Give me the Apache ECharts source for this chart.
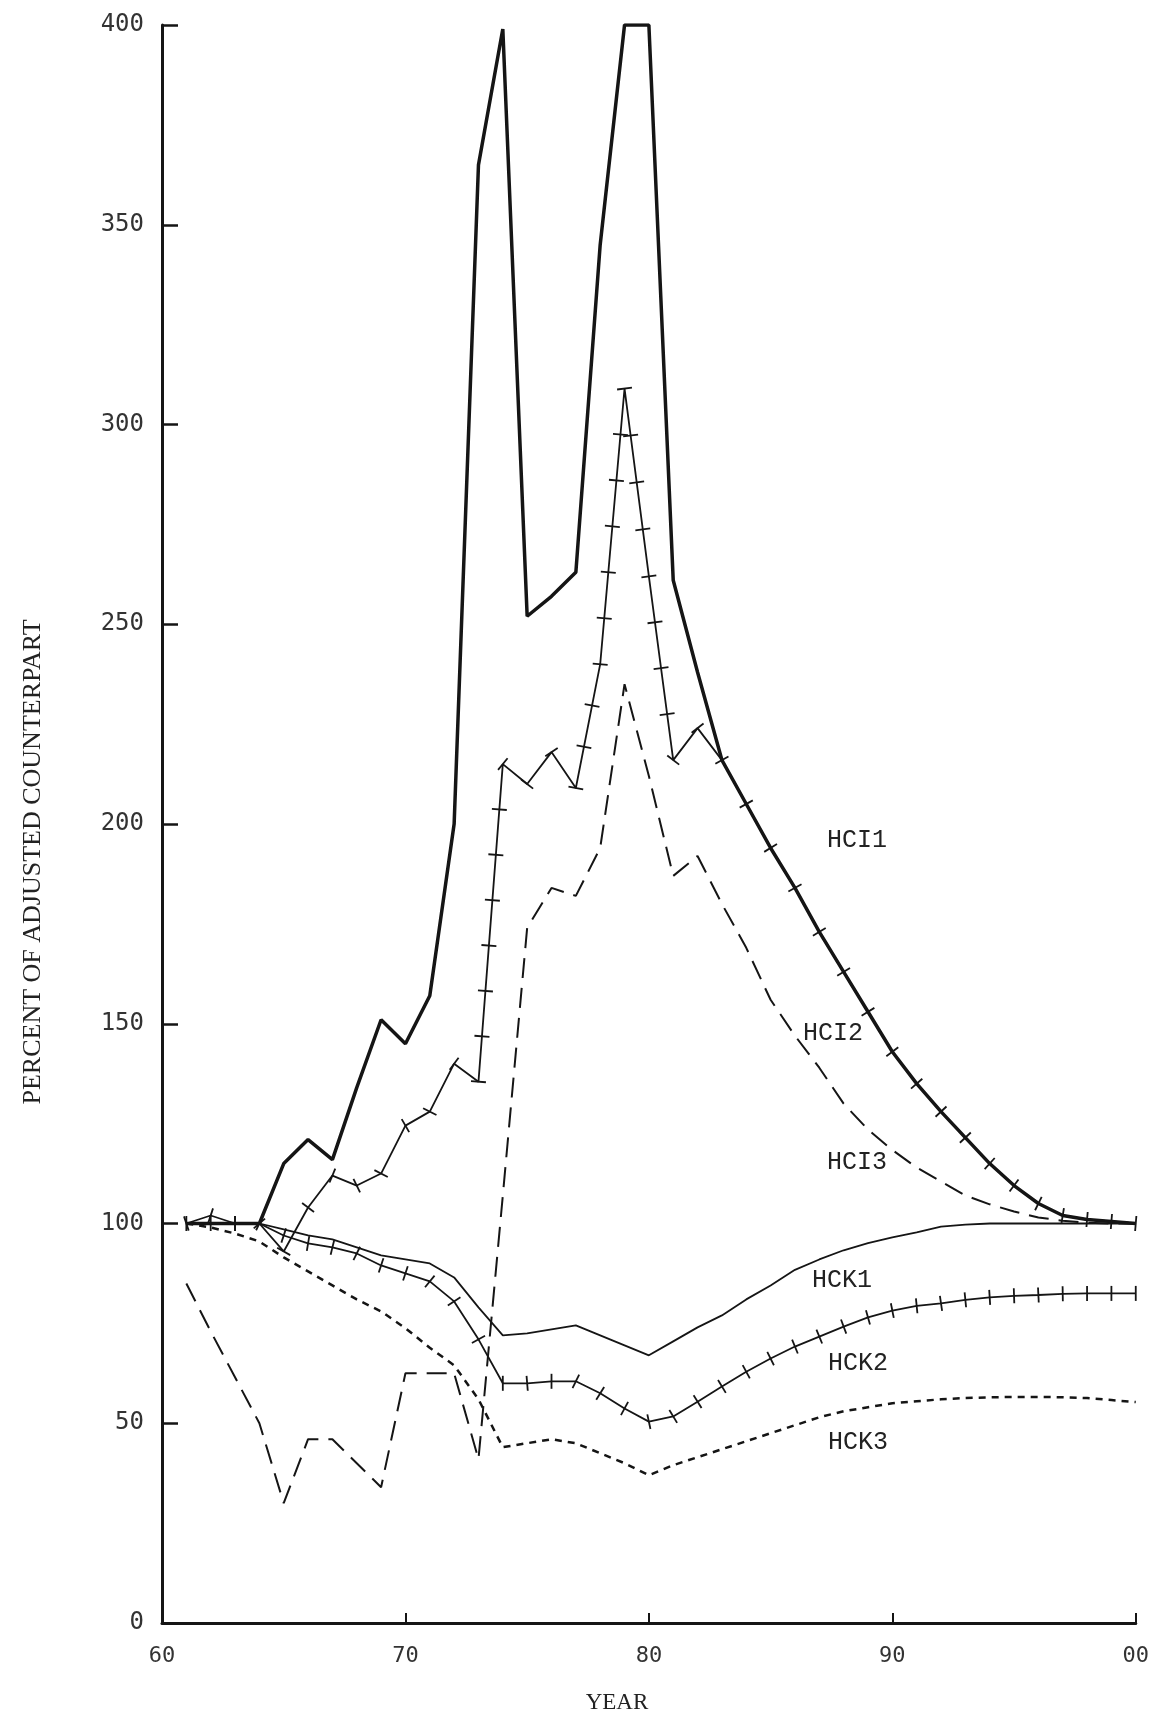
<!DOCTYPE html>
<html>
<head>
<meta charset="utf-8">
<title>Percent of adjusted counterpart</title>
<script src="https://cdn.jsdelivr.net/npm/echarts@6/dist/echarts.min.js"></script>
<style>
  html, body { margin: 0; padding: 0; background: #fff; }
  #chart { width: 1152px; height: 1716px; }
</style>
</head>
<body>
<div id="chart"></div>
<script>
// years 1961..2000, written as 61..100 on the value axis
const years = [61, 62, 63, 64, 65, 66, 67, 68, 69, 70,
  71, 72, 73, 74, 75, 76, 77, 78, 79, 80,
  81, 82, 83, 84, 85, 86, 87, 88, 89, 90,
  91, 92, 93, 94, 95, 96, 97, 98, 99, 100]

const hci1 = [100, 100, 100, 100, 115, 121, 116, 134, 151, 145,
  157, 200, 365, 399, 252, 257, 263, 345, 400, 400,
  261, 238, 216, 205, 194, 184, 173, 163, 153, 143,
  135, 128, 121.5, 115, 109.5, 105, 102, 101, 100.5, 100]

const hci2 = [100, 102, 100, 100, 93, 104, 112, 109.5, 112.5, 124.5,
  128, 140, 135.5, 215, 210, 218, 209, 240, 309, 262,
  216, 224, 216, 205, 194, 184, 173, 163, 153, 143,
  135, 128, 121.5, 115, 109.5, 105, 102, 101, 100.5, 100]

const hci3 = [85, 73, 61.5, 50, 30, 46, 46, 40, 34, 62.5,
  62.5, 62.5, 41, 107, 174, 184, 182, 194, 235, 212,
  187, 192, 180, 169, 156, 147, 139, 130, 123.5, 118.4,
  114, 110.5, 107, 104.8, 103, 101.5, 100.7, 100.2, 100, 100]

const hck1 = [100, 100, 100, 100, 98.5, 97, 96, 94, 92, 91,
  90, 86.5, 79, 72, 72.5, 73.5, 74.5, 72, 69.5, 67,
  70.5, 74, 77, 81, 84.5, 88.4, 91, 93.3, 95.1, 96.5,
  97.8, 99.2, 99.7, 100, 100, 100, 100, 100, 100, 100]

const hck2 = [100, 100, 100, 100, 97, 95, 94, 92.5, 89.5, 87.5,
  85.5, 80.5, 71, 60, 60, 60.5, 60.5, 57.5, 53.7, 50.4,
  51.7, 55.4, 59.2, 62.9, 66.2, 69.2, 71.7, 74.2, 76.5, 78.2,
  79.4, 80, 80.9, 81.5, 81.9, 82.1, 82.4, 82.5, 82.5, 82.5]

const hck3 = [100, 99, 97.5, 95.5, 91.5, 88, 84.5, 81, 78, 73.8,
  68.9, 64.5, 56, 44, 45, 46, 45, 42.5, 40, 37,
  39.5, 41.5, 43.5, 45.5, 47.5, 49.5, 51.5, 53, 54, 55,
  55.5, 56, 56.3, 56.5, 56.6, 56.6, 56.5, 56.3, 55.8, 55.3]

const yearTicks = [60, 70, 80, 90, 100]

const ink = '#151515'
const pairs = values => years.map((y, i) => [y, values[i]])

// cross-hatch marks along a curve: one per data point, more on long segments
const tickSpacing = 45
const tickLen = 15
function hatchRender(values) {
  return function (params, api) {
    const pts = values.map((v, i) => api.coord([years[i], v]))
    const children = []
    const addTick = (p, dx, dy) => {
      const len = Math.hypot(dx, dy) || 1
      const nx = (-dy / len) * tickLen / 2
      const ny = (dx / len) * tickLen / 2
      children.push({
        type: 'line',
        shape: { x1: p[0] - nx, y1: p[1] - ny, x2: p[0] + nx, y2: p[1] + ny },
        style: { stroke: ink, lineWidth: 1.8 }
      })
    }
    for (let i = 0; i < pts.length - 1; i++) {
      const a = pts[i]
      const b = pts[i + 1]
      const dx = b[0] - a[0]
      const dy = b[1] - a[1]
      const n = Math.max(1, Math.round(Math.hypot(dx, dy) / tickSpacing))
      for (let k = 0; k < n; k++) addTick([a[0] + dx * k / n, a[1] + dy * k / n], dx, dy)
    }
    const last = pts.length - 1
    addTick(pts[last], pts[last][0] - pts[last - 1][0], pts[last][1] - pts[last - 1][1])
    return { type: 'group', children }
  }
}

const lineSeries = (name, values, width, type) => ({
  name,
  type: 'line',
  data: pairs(values),
  showSymbol: false,
  silent: true,
  lineStyle: { color: ink, width, type: type || 'solid' },
  z: 3
})

const hatchSeries = (name, values) => ({
  name: name + ' marks',
  type: 'custom',
  data: [[years[0], values[0]]],
  renderItem: hatchRender(values),
  silent: true,
  z: 4
})

const labelText = (text, x, y) => ({
  type: 'text',
  x, y,
  style: { text, fill: '#222', font: '25px "Liberation Mono"', align: 'center', verticalAlign: 'middle' }
})

const chart = echarts.init(document.getElementById('chart'))
chart.setOption({
  animation: false,
  backgroundColor: '#fff',
  grid: { left: 162, right: 14, top: 25, bottom: 93 },
  xAxis: {
    type: 'value',
    min: 60,
    max: 100,
    interval: 10,
    axisLine: { lineStyle: { color: ink, width: 3 } },
    axisTick: { inside: true, length: 10, lineStyle: { color: ink, width: 2 } },
    splitLine: { show: false },
    axisLabel: {
      margin: 22,
      color: '#333',
      fontFamily: 'DejaVu Sans Mono',
      fontSize: 22,
      formatter: v => yearTicks.includes(v) ? String(v % 100).padStart(2, '0') : ''
    }
  },
  yAxis: {
    type: 'value',
    min: 0,
    max: 400,
    interval: 50,
    axisLine: { show: true, lineStyle: { color: ink, width: 3 } },
    axisTick: { show: true, inside: true, length: 16, lineStyle: { color: ink, width: 2.5 } },
    splitLine: { show: false },
    axisLabel: { margin: 18, color: '#333', fontFamily: 'DejaVu Sans Mono', fontSize: 24 }
  },
  series: [
    lineSeries('HCI1', hci1, 3.5),
    lineSeries('HCI2', hci2, 1.8),
    hatchSeries('HCI2', hci2),
    lineSeries('HCI3', hci3, 2, [20, 10]),
    lineSeries('HCK1', hck1, 1.8),
    lineSeries('HCK2', hck2, 1.8),
    hatchSeries('HCK2', hck2),
    lineSeries('HCK3', hck3, 2.5, [7, 6])
  ],
  graphic: [
    labelText('HCI1', 857, 840),
    labelText('HCI2', 833, 1033),
    labelText('HCI3', 857, 1162),
    labelText('HCK1', 842, 1280),
    labelText('HCK2', 858, 1363),
    labelText('HCK3', 858, 1442),
    {
      type: 'text',
      x: 617,
      y: 1703,
      style: { text: 'YEAR', fill: '#222', font: '23px "Liberation Serif"', align: 'center', verticalAlign: 'middle' }
    },
    {
      type: 'text',
      x: 33,
      y: 862,
      rotation: Math.PI / 2,
      style: { text: 'PERCENT OF ADJUSTED COUNTERPART', fill: '#222', font: '26px "Liberation Serif"', align: 'center', verticalAlign: 'middle' }
    }
  ]
})
</script>
</body>
</html>
